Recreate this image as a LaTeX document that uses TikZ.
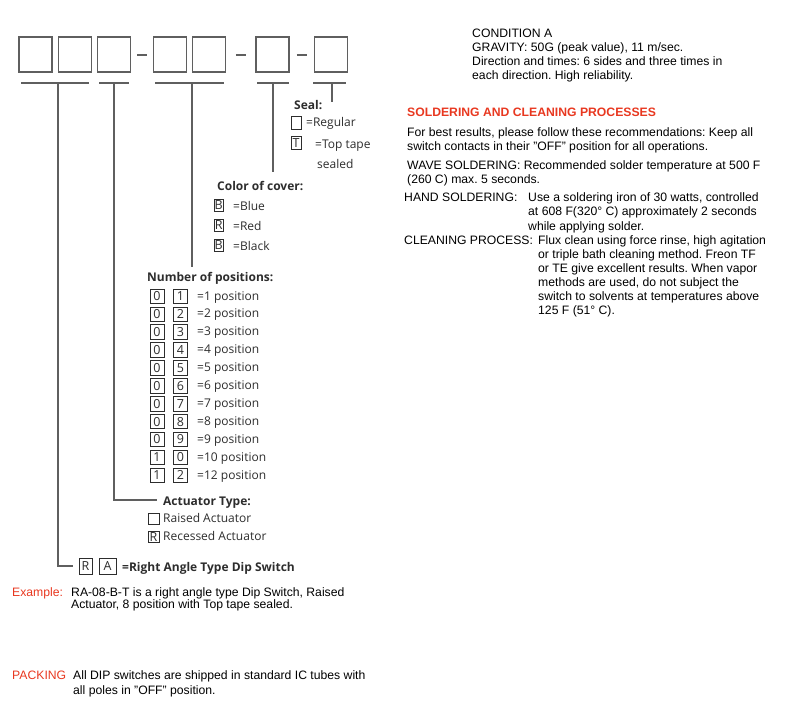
\documentclass[tikz,border=0pt]{standalone}
\usepackage{fontspec}
\setmainfont{Liberation Sans}
\newfontfamily\keyfamily{Open Sans}
\usetikzlibrary{calc}
\frenchspacing

\definecolor{specred}{RGB}{232,56,32}
\definecolor{linegray}{RGB}{95,95,95}
\definecolor{keygray}{RGB}{45,45,45}

\newcommand\keyfont{\keyfamily\fontsize{12}{14}\selectfont}
\newcommand\specfont{\fontsize{12.2}{14}\selectfont}

\tikzset{
  codebox/.style={draw=linegray, line width=1.3pt, minimum width=33pt, minimum height=35pt, inner sep=0pt, outer sep=0pt},
  codeline/.style={draw=linegray, line width=1.2pt},
  keybox/.style={draw=keygray, line width=0.8pt, inner sep=0pt, outer sep=0pt, text=keygray, font=\keyfamily\fontsize{12.5}{12.5}\selectfont},
  keytext/.style={anchor=base west, inner sep=0pt, text=keygray, font=\keyfont},
  keytitle/.style={keytext, font=\keyfont\bfseries},
  spectext/.style={anchor=base west, inner sep=0pt, font=\specfont},
  spechead/.style={spectext, text=specred, font=\specfont\bfseries},
  specred/.style={spectext, text=specred}
}

\begin{document}
\begin{tikzpicture}[x=1pt, y=-1pt]
\useasboundingbox (0,0) rectangle (798,712);

% part number
\node[codebox] (b1) at (35.5,54.5) {};
\node[codebox] (b2) at (75,54.5) {};
\node[codebox] (b3) at (114,54.5) {};
\node[codebox] (b4) at (170,54.5) {};
\node[codebox] (b5) at (209,54.5) {};
\node[codebox] (b6) at (272.5,54.5) {};
\node[codebox] (b7) at (331,54.5) {};
\foreach \l/\r in {b3/b4, b5/b6, b6/b7}
  \draw[codeline] ($(\l.east)!.5!(\r.west)+(-5,0.5)$) -- ($(\l.east)!.5!(\r.west)+(5,0.5)$);

% bars under the boxes
\draw[codeline] (21,83) -- (89,83);
\draw[codeline] (99,83) -- (129,83);
\draw[codeline] (155,83) -- (224,83);
\draw[codeline] (257,83) -- (289,83);
\draw[codeline] (313,83) -- (346,83);
\coordinate (bar1) at (58,83);
\coordinate (bar2) at (114,83);
\coordinate (bar3) at (192,83);
\coordinate (bar4) at (273,83);
\coordinate (bar5) at (332,83);

% seal
\node[keytitle] (sealtitle) at (294,109) {Seal:};
\node[keybox, minimum width=10pt, minimum height=13pt] (sealreg) at (296,122.7) {};
\node[keytext] (sealregtext) at (306,126.7) {=Regular};
\node[keybox, minimum width=10pt, minimum height=13pt] (sealtop) at (296,143.3) {T};
\node[keytext] (sealtoptext) at (315,148.3) {=Top tape};
\node[keytext] (sealtoptext2) at (317,168.3) {sealed};

% color of cover
\node[keytitle] (covertitle) at (217,190) {Color of cover:};
\foreach \c/\name [count=\i] in {B/Blue, R/Red, B/Black}{
  \node[keybox, minimum width=9.5pt, minimum height=12.5pt] (cover\i) at (218.7,{185.5+20*\i}) {\c};
  \node[keytext] (covertext\i) at (233,{190+20*\i}) {=\name};
}

% number of positions
\node[keytitle] (numtitle) at (147,281.7) {Number of positions:};
\foreach \a/\b/\n [count=\i] in {0/1/1, 0/2/2, 0/3/3, 0/4/4, 0/5/5, 0/6/6, 0/7/7, 0/8/8, 0/9/9, 1/0/10, 1/2/12}{
  \node[keybox, minimum width=14pt, minimum height=14.5pt] (numa\i) at (157,{296.3+17.9*(\i-1)}) {\a};
  \node[keybox, minimum width=14pt, minimum height=14.5pt] (numb\i) at (180.5,{296.3+17.9*(\i-1)}) {\b};
  \node[keytext] (numtext\i) at (197,{300+17.9*(\i-1)}) {=\n{} position};
}

% actuator type
\node[keytitle] (acttitle) at (163,505) {Actuator Type:};
\node[keybox, minimum width=11pt, minimum height=11pt] (actraised) at (153.5,519) {};
\node[keytext] (actraisedtext) at (163,522.7) {Raised Actuator};
\node[keybox, minimum width=11pt, minimum height=11.5pt] (actrecessed) at (153.5,536.7) {R};
\node[keytext] (actrecessedtext) at (163,540.7) {Recessed Actuator};

% right angle type
\node[keybox, minimum width=13pt, minimum height=16pt] (rar) at (85.5,566) {R};
\node[keybox, minimum width=17pt, minimum height=16pt] (raa) at (107.5,566) {A};
\node[keytitle] (ratext) at (122,571.7) {=Right Angle Type Dip Switch};

% stems
\coordinate (stem3end) at (192,267);
\coordinate (stem4end) at (273,172);
\coordinate (stem5end) at (332,102);
\draw[codeline] (bar1) |- ([xshift=-6pt]rar.west);
\draw[codeline] (bar2) |- ([xshift=-6pt]acttitle.west |- 0,500);
\draw[codeline] (bar3) -- (stem3end);
\draw[codeline] (bar4) -- (stem4end);
\draw[codeline] (bar5) -- (stem5end);

% example and packing
\node[specred] (exlabel) at (12,596) {Example:};
\node[spectext] (ex1) at (71,596) {RA-08-B-T is a right angle type Dip Switch, Raised};
\node[spectext] (ex2) at (71,608.3) {Actuator, 8 position with Top tape sealed.};
\node[specred] (packlabel) at (12,679.3) {PACKING};
\node[spectext] (pack1) at (73,679.3) {All DIP switches are shipped in standard IC tubes with};
\node[spectext] (pack2) at (73,694.3) {all poles in "OFF" position.};

% condition
\node[spectext] (cond1) at (472,37.3) {CONDITION A};
\node[spectext] (cond2) at (472,51.3) {GRAVITY: 50G (peak value), 11 m/sec.};
\node[spectext] (cond3) at (472,65.3) {Direction and times: 6 sides and three times in};
\node[spectext] (cond4) at (472,79.3) {each direction. High reliability.};

% soldering and cleaning
\node[spechead] (solderhead) at (407,116.5) {SOLDERING AND CLEANING PROCESSES};
\node[spectext] (best1) at (407,136) {For best results, please follow these recommendations: Keep all};
\node[spectext] (best2) at (407,150) {switch contacts in their "OFF" position for all operations.};
\node[spectext] (wave1) at (407,169.3) {WAVE SOLDERING: Recommended solder temperature at 500 F};
\node[spectext] (wave2) at (407,183.3) {(260 C) max. 5 seconds.};
\node[spectext] (hand) at (404,201.7) {HAND SOLDERING:};
\node[spectext] (hand1) at (528,201.7) {Use a soldering iron of 30 watts, controlled};
\node[spectext] (hand2) at (528,215) {at 608 F(320° C) approximately 2 seconds};
\node[spectext] (hand3) at (528,230) {while applying solder.};
\node[spectext] (clean) at (404,244) {CLEANING PROCESS:};
\node[spectext] (clean1) at (538,244) {Flux clean using force rinse, high agitation};
\node[spectext] (clean2) at (538,258.3) {or triple bath cleaning method. Freon TF};
\node[spectext] (clean3) at (538,272.3) {or TE give excellent results. When vapor};
\node[spectext] (clean4) at (538,286) {methods are used, do not subject the};
\node[spectext] (clean5) at (538,300) {switch to solvents at temperatures above};
\node[spectext] (clean6) at (538,314) {125 F (51° C).};
\end{tikzpicture}
\end{document}
